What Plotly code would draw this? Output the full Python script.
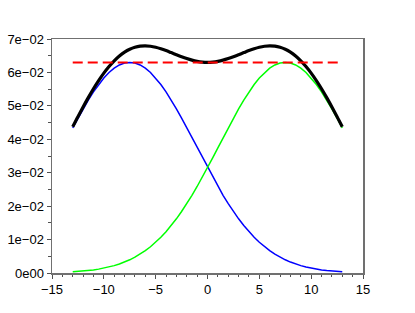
import numpy as np
import plotly.graph_objects as go

x_vals = [-13.0 + 0.5 * i for i in range(53)]

blue_vals = [0.04341, 0.04631, 0.04910, 0.05173, 0.05418, 0.05639, 0.05833, 0.05997,
             0.06128, 0.06223, 0.06281, 0.06300, 0.06281, 0.06223, 0.06128, 0.05997,
             0.05833, 0.05639, 0.05418, 0.05173, 0.04910, 0.04631, 0.04341, 0.04044,
             0.03744, 0.03446, 0.03151, 0.02864, 0.02588, 0.02323, 0.02073, 0.01839,
             0.01621, 0.01420, 0.01236, 0.01069, 0.00920, 0.00786, 0.00668, 0.00564,
             0.00473, 0.00395, 0.00327, 0.00269, 0.00220, 0.00179, 0.00145, 0.00116,
             0.00093, 0.00074, 0.00058, 0.00046, 0.00036]
green_vals = blue_vals[::-1]
total_vals = list(np.array(blue_vals) + np.array(green_vals))
ref_level = [0.063, 0.063]
ref_x = [-13.0, 13.0]

x_ticks = [-15, -10, -5, 0, 5, 10, 15]
y_ticks = [0, 0.01, 0.02, 0.03, 0.04, 0.05, 0.06, 0.07]
y_tick_text = ["0e00", "1e\u221202", "2e\u221202", "3e\u221202", "4e\u221202",
               "5e\u221202", "6e\u221202", "7e\u221202"]

fig = go.Figure()
fig.add_trace(go.Scatter(x=x_vals, y=blue_vals, mode="lines",
                         line=dict(color="#0000ff", width=1.5)))
fig.add_trace(go.Scatter(x=x_vals, y=green_vals, mode="lines",
                         line=dict(color="#00ff00", width=1.5)))
fig.add_trace(go.Scatter(x=x_vals, y=total_vals, mode="lines",
                         line=dict(color="#000000", width=3.2, shape="spline")))
fig.add_trace(go.Scatter(x=ref_x, y=ref_level, mode="lines",
                         line=dict(color="#ff0000", width=2, dash="10px,5px")))

axis_font = dict(family="Liberation Sans, Arial, sans-serif", size=13, color="#000000")
fig.update_xaxes(range=[-15, 15], tickvals=x_ticks, ticktext=[str(v).replace("-", "\u2212") for v in x_ticks],
                 showgrid=False, zeroline=False, showline=True, linecolor="#707070",
                 linewidth=1.5, mirror=True, ticks="outside", ticklen=4, tickcolor="#505050",
                 tickwidth=1, minor=dict(dtick=1, ticks="outside", ticklen=2.5, tickcolor="#505050"),
                 tickfont=axis_font, automargin=False)
fig.update_yaxes(range=[0, 0.07], tickvals=y_ticks, ticktext=y_tick_text,
                 showgrid=False, zeroline=False, showline=True, linecolor="#707070",
                 linewidth=1.5, mirror=True, ticks="outside", ticklen=4, tickcolor="#505050",
                 tickwidth=1, minor=dict(dtick=0.005, ticks="outside", ticklen=2.5, tickcolor="#505050"),
                 tickfont=axis_font, automargin=False)
fig.update_layout(width=415, height=313, showlegend=False,
                  margin=dict(l=52, r=52, t=39, b=40),
                  plot_bgcolor="white", paper_bgcolor="white")
fig.write_html("out.html", config={"displayModeBar": False, "staticPlot": True},
               post_script="document.body.style.margin='0';document.body.style.overflow='hidden';")
